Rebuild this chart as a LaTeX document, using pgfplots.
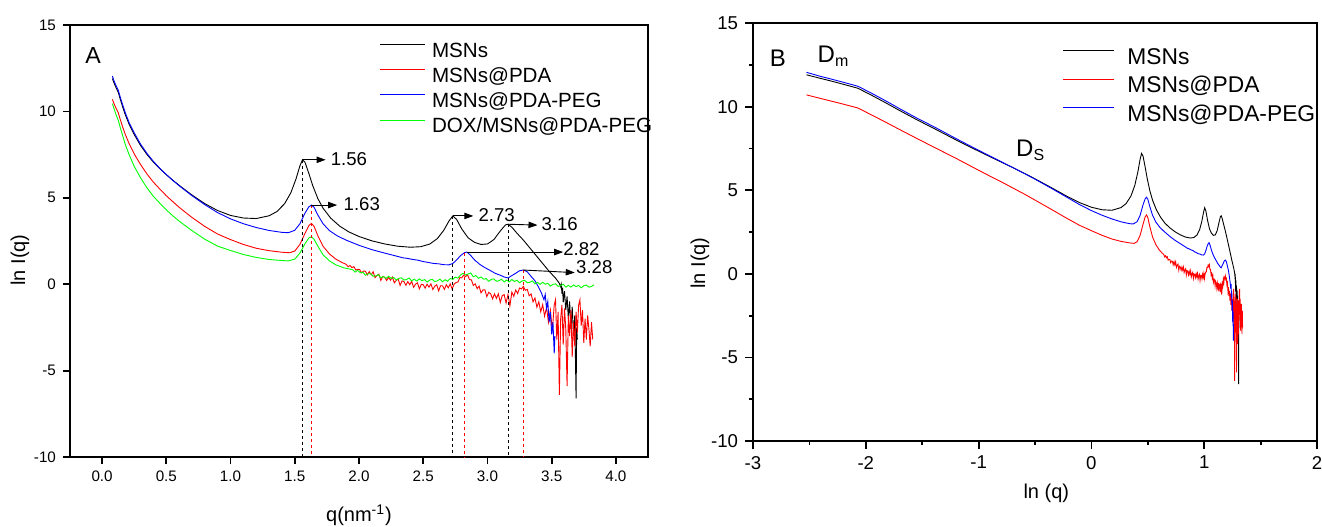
\documentclass[border=0pt]{standalone}
\usepackage{fontspec}
\setmainfont{Liberation Sans}
\usepackage{pgfplots}
\pgfplotsset{compat=1.18}
\usepackage{pgfplotstable}
\usetikzlibrary{arrows.meta}

\definecolor{ored}{RGB}{255,0,0}
\definecolor{oblue}{RGB}{0,0,255}
\definecolor{ogreen}{RGB}{0,255,0}

% MSNs
\pgfplotstableread{
q v
0.080 11.90
0.090 11.70
0.100 11.52
0.110 11.35
0.126 11.10
0.140 10.74
0.160 10.26
0.180 9.82
0.210 9.26
0.250 8.66
0.300 8.02
0.350 7.50
0.400 7.06
0.450 6.68
0.500 6.34
0.550 6.02
0.600 5.72
0.700 5.16
0.800 4.66
0.900 4.26
1.000 3.98
1.100 3.83
1.200 3.80
1.300 3.96
1.360 4.20
1.420 4.65
1.470 5.30
1.510 6.10
1.540 6.85
1.560 7.20
1.580 7.05
1.610 6.40
1.640 5.70
1.680 4.95
1.720 4.40
1.780 3.82
1.850 3.36
1.920 3.03
2.000 2.76
2.100 2.51
2.200 2.33
2.300 2.20
2.400 2.14
2.480 2.17
2.550 2.32
2.610 2.64
2.660 3.12
2.700 3.65
2.730 3.95
2.760 3.75
2.800 3.20
2.850 2.68
2.900 2.42
2.950 2.30
3.000 2.33
3.050 2.58
3.100 3.08
3.140 3.43
3.160 3.47
3.190 3.30
3.230 2.95
3.280 2.55
3.330 2.10
3.380 1.65
3.430 1.20
3.480 0.75
3.530 0.35
3.560 0.05
3.570 -0.15
3.575 0.00
3.580 -0.55
3.585 -0.20
3.590 -1.05
3.600 -0.40
3.610 -1.50
3.620 -0.70
3.630 -2.00
3.640 -1.00
3.650 -2.60
3.660 -1.30
3.670 -3.00
3.680 -1.80
3.690 -6.60
3.695 -2.50
3.700 -3.20
}\msn

% MSNs@PDA
\pgfplotstableread{
q v
0.080 10.70
0.090 10.50
0.100 10.32
0.110 10.16
0.126 9.92
0.140 9.56
0.160 9.10
0.180 8.68
0.210 8.14
0.250 7.54
0.300 6.92
0.350 6.37
0.400 5.90
0.450 5.50
0.500 5.12
0.550 4.78
0.600 4.45
0.700 3.86
0.800 3.34
0.900 2.90
1.000 2.58
1.100 2.30
1.200 2.08
1.300 1.94
1.400 1.85
1.460 1.82
1.500 1.92
1.540 2.30
1.580 2.95
1.610 3.40
1.630 3.52
1.650 3.35
1.680 2.80
1.720 2.20
1.770 1.75
1.820 1.45
1.870 1.25
1.900 1.15
1.915 1.01
1.930 1.08
1.945 0.96
1.960 1.02
1.975 0.82
1.990 0.86
2.005 0.85
2.020 0.66
2.035 0.76
2.050 0.75
2.065 0.54
2.080 0.73
2.095 0.54
2.110 0.72
2.125 0.38
2.140 0.51
2.155 0.58
2.170 0.22
2.185 0.45
2.200 0.40
2.215 0.21
2.230 0.40
2.245 0.23
2.260 0.41
2.275 0.08
2.290 0.22
2.305 0.30
2.320 -0.07
2.335 0.19
2.350 0.15
2.365 -0.06
2.380 0.15
2.395 -0.03
2.410 0.17
2.425 -0.18
2.440 0.00
2.455 0.08
2.470 -0.27
2.485 -0.01
2.500 -0.03
2.515 -0.23
2.530 0.00
2.545 -0.17
2.560 0.02
2.575 -0.31
2.590 -0.12
2.605 -0.03
2.620 -0.39
2.635 -0.09
2.650 -0.09
2.665 -0.30
2.680 -0.03
2.695 -0.21
2.710 0.02
2.725 -0.28
2.740 0.00
2.755 0.10
2.770 0.12
2.785 0.38
2.800 0.37
2.815 0.52
2.830 0.44
2.845 0.54
2.860 0.27
2.875 0.25
2.890 -0.07
2.905 0.02
2.920 -0.26
2.935 -0.11
2.950 -0.50
2.965 -0.33
2.980 -0.32
2.995 -0.72
3.010 -0.47
3.025 -0.55
3.040 -0.85
3.055 -0.56
3.070 -0.82
3.085 -0.56
3.100 -1.06
3.115 -0.66
3.130 -0.60
3.145 -1.09
3.160 -0.60
3.175 -1.25
3.190 -0.46
3.205 -0.70
3.220 -0.34
3.235 -0.54
3.250 -0.22
3.265 -0.27
3.280 -0.13
3.295 -0.35
3.310 -0.30
3.325 -0.67
3.340 -0.56
3.355 -1.02
3.370 -0.80
3.385 -1.33
3.400 -1.02
3.415 -1.60
3.430 -1.18
3.445 -1.85
3.460 -1.35
3.475 -2.20
3.490 -1.50
3.505 -2.70
3.520 -1.20
3.530 -0.90
3.540 -3.20
3.550 -1.60
3.560 -6.40
3.570 -2.00
3.580 -1.20
3.590 -3.50
3.600 -1.40
3.610 -2.60
3.620 -5.90
3.630 -1.80
3.640 -3.00
3.650 -1.50
3.660 -4.20
3.670 -2.20
3.680 -3.60
3.690 -1.60
3.700 -2.80
3.710 -1.20
3.720 -0.90
3.730 -2.40
3.740 -1.50
3.750 -3.40
3.760 -2.00
3.770 -3.20
3.780 -1.80
3.790 -2.60
3.800 -3.60
3.810 -2.20
3.820 -3.20
}\pda

% MSNs@PDA-PEG
\pgfplotstableread{
q v
0.080 12.05
0.090 11.82
0.100 11.64
0.110 11.47
0.126 11.22
0.140 10.86
0.160 10.38
0.180 9.93
0.210 9.36
0.250 8.76
0.300 8.10
0.350 7.56
0.400 7.10
0.450 6.70
0.500 6.34
0.550 6.01
0.600 5.70
0.700 5.12
0.800 4.60
0.900 4.14
1.000 3.78
1.100 3.50
1.200 3.28
1.300 3.11
1.400 3.00
1.450 2.98
1.500 3.12
1.540 3.50
1.580 4.12
1.610 4.48
1.630 4.58
1.650 4.45
1.680 4.00
1.720 3.50
1.770 3.10
1.830 2.80
1.900 2.55
2.000 2.25
2.100 2.00
2.200 1.80
2.300 1.61
2.340 1.53
2.380 1.49
2.420 1.43
2.460 1.39
2.500 1.31
2.540 1.26
2.580 1.20
2.620 1.18
2.660 1.13
2.700 1.12
2.730 1.20
2.760 1.40
2.790 1.65
2.820 1.82
2.840 1.86
2.870 1.66
2.900 1.40
2.940 1.15
2.980 0.96
3.020 0.80
3.060 0.63
3.100 0.52
3.130 0.42
3.160 0.36
3.190 0.50
3.220 0.63
3.250 0.78
3.280 0.82
3.310 0.72
3.340 0.45
3.370 0.20
3.400 -0.20
3.420 -0.50
3.440 -0.90
3.450 -0.60
3.460 -1.40
3.470 -1.00
3.480 -2.20
3.490 -1.60
3.500 -2.90
3.510 -2.20
3.520 -4.00
3.525 -3.00
}\peg

% DOX/MSNs@PDA-PEG
\pgfplotstableread{
q v
0.080 10.45
0.090 10.22
0.100 10.00
0.110 9.78
0.126 9.48
0.140 9.10
0.160 8.60
0.180 8.10
0.210 7.50
0.250 6.82
0.300 6.15
0.350 5.57
0.400 5.08
0.450 4.68
0.500 4.30
0.550 3.96
0.600 3.65
0.700 3.10
0.800 2.60
0.900 2.20
1.000 1.95
1.100 1.72
1.200 1.55
1.300 1.43
1.400 1.37
1.450 1.35
1.500 1.45
1.540 1.80
1.580 2.35
1.610 2.68
1.630 2.75
1.650 2.60
1.680 2.20
1.720 1.70
1.770 1.35
1.820 1.12
1.880 0.95
1.950 0.84
1.970 0.70
1.990 0.80
2.010 0.66
2.030 0.70
2.050 0.52
2.070 0.60
2.090 0.61
2.110 0.46
2.130 0.48
2.150 0.55
2.170 0.37
2.190 0.45
2.210 0.33
2.230 0.46
2.250 0.34
2.270 0.39
2.290 0.24
2.310 0.34
2.330 0.37
2.350 0.24
2.370 0.27
2.390 0.36
2.410 0.19
2.430 0.29
2.450 0.18
2.470 0.31
2.490 0.20
2.510 0.27
2.530 0.12
2.550 0.24
2.570 0.28
2.590 0.15
2.610 0.19
2.630 0.30
2.650 0.14
2.670 0.26
2.690 0.17
2.710 0.33
2.730 0.28
2.750 0.41
2.770 0.35
2.790 0.53
2.810 0.63
2.830 0.54
2.850 0.59
2.870 0.65
2.890 0.43
2.910 0.50
2.930 0.34
2.950 0.42
2.970 0.29
2.990 0.33
3.010 0.17
3.030 0.28
3.050 0.31
3.070 0.17
3.090 0.20
3.110 0.29
3.130 0.13
3.150 0.24
3.170 0.13
3.190 0.27
3.210 0.16
3.230 0.23
3.250 0.08
3.270 0.19
3.290 0.22
3.310 0.09
3.330 0.11
3.350 0.19
3.370 0.02
3.390 0.11
3.410 -0.01
3.430 0.11
3.450 0.00
3.470 0.05
3.490 -0.11
3.510 -0.01
3.530 0.02
3.550 -0.12
3.570 -0.09
3.590 0.00
3.610 -0.17
3.630 -0.07
3.650 -0.17
3.670 -0.04
3.690 -0.14
3.710 -0.07
3.730 -0.21
3.750 -0.09
3.770 -0.05
3.790 -0.17
3.810 -0.13
3.830 -0.03
}\dox

\pgfplotsset{
  orig/.style={
    scale only axis, anchor=south west,
    ymin=-10, ymax=15, ytick={-10,-5,...,15},
    tick align=outside, xtick pos=bottom, ytick pos=left,
    axis line style={line width=0.9pt},
    every tick/.style={line width=0.9pt, black},
    /pgf/number format/assume math mode=true,
    clip=false,
    legend cell align=left,
  },
}

\begin{document}
\begin{tikzpicture}
\useasboundingbox (0pt,0pt) rectangle (661pt,263pt);

% ---------- panel A ----------
\begin{axis}[orig,
  at={(35pt,34.5pt)}, width=289pt, height=216pt,
  xmin=-0.25, xmax=4.25, xtick={0,0.5,...,4},
  major tick length=3.5pt,
  xticklabel style={/pgf/number format/.cd, fixed, fixed zerofill, precision=1},
  tick label style={font=\fontsize{7.6}{9}\selectfont},
  xlabel={q(nm\textsuperscript{-1})}, ylabel={ln I(q)},
  label style={font=\fontsize{9.5}{11}\selectfont},
  every axis x label/.style={at={(rel axis cs:0.5,0)}, anchor=center, yshift=-29pt},
  every axis y label/.style={at={(rel axis cs:-0.0865,0.456)}, anchor=center, rotate=90},
  legend style={draw=none, fill=none, at={(rel axis cs:0.5355,0.965)}, anchor=north west,
    inner sep=0pt, row sep=1.2pt, font=\fontsize{10.3}{12}\selectfont,
    nodes={inner sep=0.6pt, text height=7.7pt, text depth=2.5pt},
    /tikz/every odd column/.style={column sep=2.6pt}},
  legend image code/.code={\draw[#1] (0pt,3.7pt) -- (22.4pt,3.7pt);},
]
\addplot[black, line width=0.45pt] table[x=q, y=v] {\msn};
\addlegendentry{MSNs}
\addplot[ored, line width=0.45pt] table[x=q, y=v] {\pda};
\addlegendentry{MSNs@PDA}
\addplot[oblue, line width=0.45pt] table[x=q, y=v] {\peg};
\addlegendentry{MSNs@PDA-PEG}
\addplot[ogreen, line width=0.45pt] table[x=q, y=v] {\dox};
\addlegendentry{DOX/MSNs@PDA-PEG}

% peak markers
\tikzset{dl/.style={line width=0.3pt, dash pattern=on 1.6pt off 1.4pt}}
\draw[dl, black] (axis cs:1.56,7.20) -- (axis cs:1.56,-10);
\draw[dl, black] (axis cs:2.73,3.95) -- (axis cs:2.73,-10);
\draw[dl, black] (axis cs:3.16,3.47) -- (axis cs:3.16,-10);
\draw[dl, ored] (axis cs:1.63,4.58) -- (axis cs:1.63,-10);
\draw[dl, ored] (axis cs:2.82,1.82) -- (axis cs:2.82,-10);
\draw[dl, ored] (axis cs:3.28,0.82) -- (axis cs:3.28,-10);

\tikzset{pk/.style={-{Triangle[length=4.5pt,width=3.2pt]}, line width=0.45pt, black},
         pl/.style={anchor=west, inner sep=0.5pt, font=\fontsize{9.3}{11}\selectfont}}
\draw[pk] (axis cs:1.56,7.20) -- (axis cs:1.74,7.20);
\node[pl] at (axis cs:1.77,7.25) {1.56};
\draw[pk] (axis cs:1.63,4.58) -- (axis cs:1.83,4.58);
\node[pl] at (axis cs:1.87,4.62) {1.63};
\draw[pk] (axis cs:2.73,3.95) -- (axis cs:2.89,3.95);
\node[pl] at (axis cs:2.92,3.98) {2.73};
\draw[pk] (axis cs:3.16,3.47) -- (axis cs:3.39,3.42);
\node[pl] at (axis cs:3.41,3.50) {3.16};
\draw[pk] (axis cs:2.84,1.86) -- (axis cs:3.59,1.86);
\node[pl] at (axis cs:3.58,2.02) {2.82};
\draw[pk] (axis cs:3.28,0.82) -- (axis cs:3.68,0.67);
\node[pl] at (axis cs:3.68,0.98) {3.28};

\node[font=\fontsize{11.6}{13}\selectfont] at (axis cs:-0.07,13.25) {A};
\end{axis}

% ---------- panel B ----------
\begin{axis}[orig,
  at={(376.5pt,42.5pt)}, width=282pt, height=209pt,
  xmin=-3, xmax=2, xtick={-3,...,2},
  minor x tick num=1, minor y tick num=1,
  major tick length=4pt, minor tick length=2pt,
  tick label style={font=\fontsize{9.3}{11}\selectfont},
  xlabel={ln (q)}, ylabel={ln I(q)},
  label style={font=\fontsize{12.5}{14}\selectfont},
  every axis x label/.style={at={(rel axis cs:0.52,0)}, anchor=center, yshift=-26pt},
  every axis y label/.style={at={(rel axis cs:-0.094,0.426)}, anchor=center, rotate=90},
  legend style={draw=none, fill=none, at={(rel axis cs:0.548,0.945)}, anchor=north west,
    inner sep=0pt, row sep=1.7pt, font=\fontsize{11.4}{13}\selectfont,
    nodes={inner sep=0.6pt, text height=8.5pt, text depth=2.8pt},
    /tikz/every odd column/.style={column sep=5.9pt}},
  legend image code/.code={\draw[#1] (0pt,4.1pt) -- (25.5pt,4.1pt);},
]
\addplot[black, line width=0.45pt] table[x expr=ln(\thisrow{q}), y=v] {\msn};
\addlegendentry{MSNs}
\addplot[ored, line width=0.45pt] table[x expr=ln(\thisrow{q}), y=v] {\pda};
\addlegendentry{MSNs@PDA}
\addplot[oblue, line width=0.45pt] table[x expr=ln(\thisrow{q}), y=v] {\peg};
\addlegendentry{MSNs@PDA-PEG}

\node[font=\fontsize{12}{14}\selectfont] at (axis cs:-2.78,12.9) {B};
\node[font=\fontsize{12}{14}\selectfont, anchor=west, inner sep=0pt] at (axis cs:-2.43,13.0) {D\textsubscript{m}};
\node[font=\fontsize{12}{14}\selectfont, anchor=west, inner sep=0pt] at (axis cs:-0.67,7.40) {D\textsubscript{S}};
\end{axis}
\end{tikzpicture}
\end{document}
